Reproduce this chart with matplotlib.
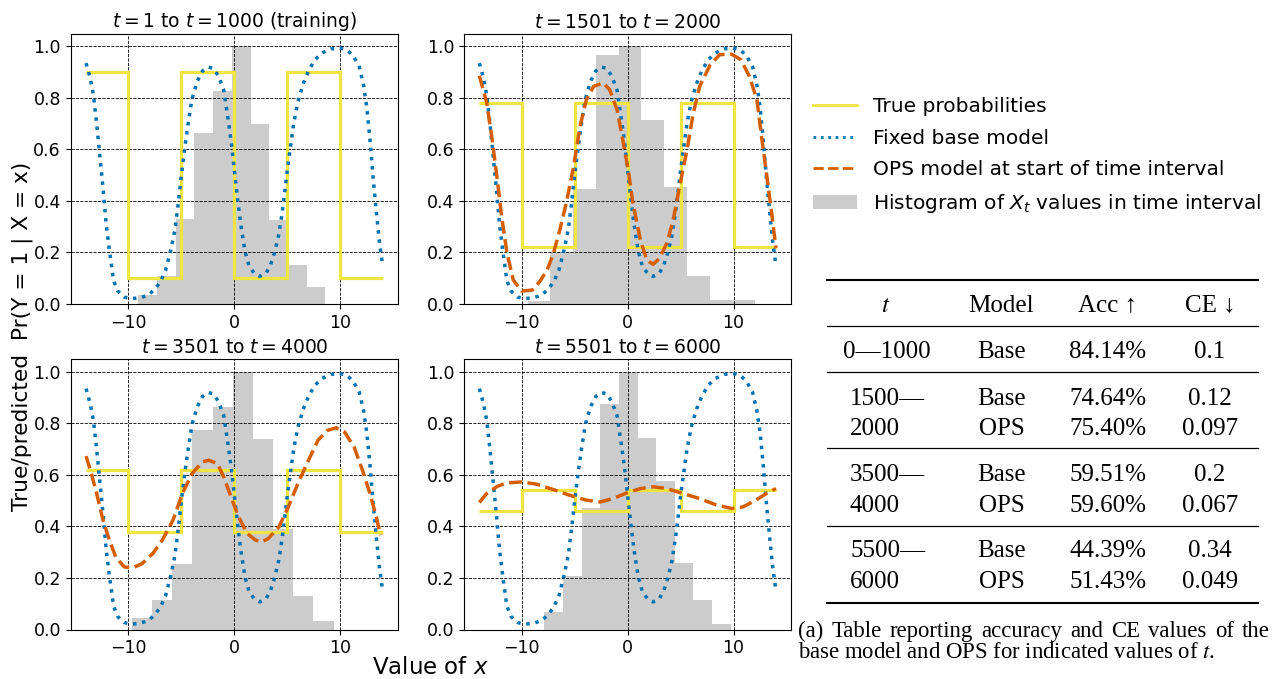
import numpy as np
import matplotlib
matplotlib.use("Agg")
import matplotlib.pyplot as plt
from matplotlib.lines import Line2D
from matplotlib.patches import Patch

W, H = 1273, 679

# ---------------- data ----------------
panel_titles = [
    r"$t = 1$ to $t = 1000$ (training)",
    r"$t = 1501$ to $t = 2000$",
    r"$t = 3501$ to $t = 4000$",
    r"$t = 5501$ to $t = 6000$",
]

# true Pr(Y=1 | X=x): piecewise constant on these breakpoints
true_edges = [-14, -10, -5, 0, 5, 10, 14]
true_p1 = [0.90, 0.10, 0.90, 0.10, 0.90, 0.10]
true_p2 = [0.78, 0.22, 0.78, 0.22, 0.78, 0.22]
true_p3 = [0.62, 0.38, 0.62, 0.38, 0.62, 0.38]
true_p4 = [0.46, 0.54, 0.46, 0.54, 0.46, 0.54]

# fixed base model prediction
base_x = [-14.0, -13.6, -13.3, -13.0, -12.7, -12.4, -12.1, -11.8, -11.4, -11.0,
          -10.4, -9.7, -8.9, -8.1, -7.5, -7.0, -6.5, -6.0, -5.6, -5.3, -5.0,
          -4.7, -4.4, -4.0, -3.5, -3.0, -2.5, -2.0, -1.5, -1.0, -0.6, -0.3,
          0.0, 0.3, 0.6, 1.0, 1.4, 1.9, 2.4, 3.0, 3.4, 3.8, 4.2, 4.5, 4.8,
          5.0, 5.3, 5.6, 6.0, 6.5, 7.0, 7.6, 8.3, 9.1, 9.9, 10.6, 11.2, 11.8,
          12.2, 12.5, 12.8, 13.1, 13.4, 13.7, 14.0]
base_y = [0.935, 0.875, 0.81, 0.70, 0.575, 0.45, 0.31, 0.21, 0.09, 0.05,
          0.027, 0.021, 0.024, 0.035, 0.058, 0.085, 0.13, 0.21, 0.29, 0.39, 0.50,
          0.60, 0.69, 0.795, 0.865, 0.905, 0.92, 0.915, 0.885, 0.83, 0.72, 0.63,
          0.52, 0.41, 0.31, 0.205, 0.146, 0.118, 0.107, 0.12, 0.15, 0.20, 0.27,
          0.35, 0.45, 0.52, 0.61, 0.70, 0.785, 0.855, 0.905, 0.948, 0.975, 0.99,
          0.994, 0.987, 0.965, 0.92, 0.85, 0.765, 0.64, 0.49, 0.36, 0.24, 0.15]

# OPS model at the start of each later interval
ops_x2 = [-14.0, -13.3, -12.8, -12.3, -11.9, -11.4, -10.8, -10.0, -9.0, -8.3,
          -7.6, -7.0, -6.4, -5.8, -5.1, -4.5, -3.9, -3.2, -2.3, -1.7, -1.0,
          -0.4, 0.1, 0.5, 1.2, 1.8, 2.4, 3.0, 3.7, 4.3, 4.9, 5.6, 6.2, 6.8,
          7.8, 8.7, 9.8, 10.7, 11.5, 12.2, 12.6, 13.1, 13.6, 14.0]
ops_y2 = [0.886, 0.78, 0.64, 0.48, 0.34, 0.20, 0.093, 0.05, 0.054, 0.087,
          0.132, 0.197, 0.288, 0.391, 0.534, 0.689, 0.793, 0.845, 0.858, 0.832,
          0.754, 0.624, 0.508, 0.391, 0.249, 0.171, 0.154, 0.177, 0.236, 0.326,
          0.456, 0.598, 0.741, 0.845, 0.929, 0.968, 0.970, 0.948, 0.883, 0.793,
          0.663, 0.508, 0.352, 0.216]

ops_x3 = [-14.0, -13.5, -13.0, -12.4, -11.8, -11.2, -10.4, -9.6, -8.7, -7.7,
          -6.8, -5.8, -4.9, -4.0, -3.0, -2.4, -1.6, -1.0, -0.2, 0.4, 1.2, 2.0,
          2.6, 3.2, 4.2, 5.1, 6.0, 7.0, 7.9, 8.8, 9.6, 10.4, 11.3, 12.1, 12.8,
          13.4, 13.8]
ops_y3 = [0.673, 0.605, 0.528, 0.424, 0.347, 0.282, 0.243, 0.239, 0.256, 0.295,
          0.347, 0.424, 0.528, 0.605, 0.651, 0.657, 0.644, 0.592, 0.502, 0.437,
          0.373, 0.347, 0.340, 0.353, 0.398, 0.476, 0.567, 0.657, 0.735, 0.773,
          0.783, 0.767, 0.709, 0.618, 0.528, 0.437, 0.366]

ops_x4 = [-14.0, -13.3, -12.3, -11.4, -10.0, -8.6, -7.0, -5.4, -3.9, -2.6,
          -1.4, -0.1, 1.2, 2.4, 3.7, 5.2, 6.8, 8.4, 9.8, 10.9, 12.1, 13.1, 14.0]
ops_y4 = [0.493, 0.528, 0.556, 0.569, 0.573, 0.564, 0.543, 0.520, 0.502, 0.495,
          0.508, 0.530, 0.547, 0.554, 0.547, 0.528, 0.508, 0.483, 0.470, 0.476,
          0.502, 0.528, 0.547]

# normalised histograms of X_t within each interval
hist_edges1 = [-9.06, -7.30, -5.53, -3.77, -2.00, -0.24, 1.53, 3.29, 5.05, 6.82, 8.58]
hist_h1 = [0.035, 0.11, 0.33, 0.665, 0.825, 1.0, 0.70, 0.325, 0.152, 0.067]
hist_edges2 = [-9.45, -7.30, -5.15, -3.00, -0.85, 1.30, 3.45, 5.60, 7.75, 9.90, 12.05]
hist_h2 = [0.01, 0.20, 0.447, 0.968, 1.0, 0.715, 0.455, 0.11, 0.016, 0.016]
hist_edges3 = [-9.69, -7.78, -5.88, -3.97, -2.06, -0.16, 1.75, 3.66, 5.56, 7.47, 9.38]
hist_h3 = [0.045, 0.115, 0.255, 0.775, 0.862, 1.0, 0.739, 0.39, 0.131, 0.032]
hist_edges4 = [-7.87, -6.11, -4.35, -2.59, -0.83, 0.93, 2.69, 4.45, 6.21, 7.97, 9.72]
hist_h4 = [0.067, 0.207, 0.47, 0.876, 1.0, 0.745, 0.576, 0.26, 0.114, 0.023]

# results table
tab_header = ["$t$", "Model", "Acc \u2191", "CE \u2193"]
tab_t = ["0\u20141000", "1500\u2014", "2000", "3500\u2014", "4000", "5500\u2014", "6000"]
tab_model = ["Base", "Base", "OPS", "Base", "OPS", "Base", "OPS"]
tab_acc = ["84.14%", "74.64%", "75.40%", "59.51%", "59.60%", "44.39%", "51.43%"]
tab_ce = ["0.1", "0.12", "0.097", "0.2", "0.067", "0.34", "0.049"]

caption_line1 = "(a) Table reporting accuracy and CE values of the"
caption_line2 = "base model and OPS for indicated values of $t$."

# ---------------- style ----------------
C_TRUE = "#f0e442"
C_BASE = "#0072b2"
C_OPS = "#d55e00"
SERIF = ["Liberation Serif", "DejaVu Serif"]

fig = plt.figure(figsize=(W / 100, H / 100), dpi=100)


def fx(px):
    return px / W


def fy(py):
    return 1 - py / H


ax_w, ax_h = 327.3 / W, 270.5 / H
positions = [
    (70.7, 304.0), (464.0, 304.0),
    (70.7, 629.5), (464.0, 629.5),
]

panels = [
    (true_p1, None, None, hist_edges1, hist_h1),
    (true_p2, ops_x2, ops_y2, hist_edges2, hist_h2),
    (true_p3, ops_x3, ops_y3, hist_edges3, hist_h3),
    (true_p4, ops_x4, ops_y4, hist_edges4, hist_h4),
]

for (left, bottom), title, (tp, ox, oy, he, hh) in zip(positions, panel_titles, panels):
    ax = fig.add_axes([fx(left), fy(bottom), ax_w, ax_h])
    he = np.asarray(he)
    ax.bar(he[:-1], hh, width=np.diff(he), align="edge",
           color="grey", alpha=0.4, linewidth=0, zorder=1)
    ax.stairs(tp, true_edges, baseline=None, color=C_TRUE, lw=2.3, zorder=3)
    ax.plot(base_x, base_y, color=C_BASE, ls=":", lw=2.5, zorder=4)
    if ox is not None:
        ax.plot(ox, oy, color=C_OPS, ls="--", lw=2.5, zorder=5)
    ax.set_xlim(-15.45, 15.45)
    ax.set_ylim(0, 1.05)
    ax.set_xticks([-10, 0, 10])
    ax.set_yticks([0.0, 0.2, 0.4, 0.6, 0.8, 1.0])
    ax.grid(True, color="k", ls="--", lw=0.6)
    ax.tick_params(labelsize=12.5)
    ax.set_title(title, fontsize=13.5, pad=4)

fig.text(fx(22), fy(336), "True/predicted  Pr(Y = 1 | X = x)",
         rotation=90, ha="center", va="center", fontsize=15.7)
fig.text(fx(430), fy(674), r"Value of $x$", ha="center", va="baseline", fontsize=16.5)

# legend
handles = [
    Line2D([], [], color=C_TRUE, lw=2),
    Line2D([], [], color=C_BASE, ls=":", lw=2),
    Line2D([], [], color=C_OPS, ls="--", lw=2),
    Patch(facecolor="grey", alpha=0.4, linewidth=0),
]
labels = [
    "True probabilities",
    "Fixed base model",
    "OPS model at start of time interval",
    r"Histogram of $X_t$ values in time interval",
]
fig.legend(handles, labels, loc="upper left", bbox_to_anchor=(fx(813), fy(97.5)),
           frameon=False, fontsize=14.5, borderpad=0, borderaxespad=0,
           handlelength=2.19, handletextpad=0.8, labelspacing=0.62)

# table
x0, x1 = 827, 1258
for y, lw in [(280, 1.5), (326, 0.9), (372, 0.9), (448, 0.9), (526, 0.9), (603, 1.5)]:
    fig.add_artist(Line2D([fx(x0), fx(x1)], [fy(y), fy(y)], color="k", lw=lw))

col_x = [886, 1001.5, 1108, 1210]
TS = 18
for cx, s in zip(col_x, tab_header):
    fig.text(fx(cx), fy(311.7), s, ha="center", va="baseline", fontsize=TS,
             family=SERIF, math_fontfamily="stix")

row_base = [357.7, 404.8, 435.0, 480.7, 512.3, 556.7, 588.3]
for i, yb in enumerate(row_base):
    if i == 0:
        fig.text(fx(886.5), fy(yb), tab_t[i], ha="center", va="baseline",
                 fontsize=TS, family=SERIF)
    else:
        fig.text(fx(850), fy(yb), tab_t[i], ha="left", va="baseline",
                 fontsize=TS, family=SERIF)
    fig.text(fx(col_x[1]), fy(yb), tab_model[i], ha="center", va="baseline",
             fontsize=TS, family=SERIF)
    fig.text(fx(col_x[2]), fy(yb), tab_acc[i], ha="center", va="baseline",
             fontsize=TS, family=SERIF)
    fig.text(fx(col_x[3]), fy(yb), tab_ce[i], ha="center", va="baseline",
             fontsize=TS, family=SERIF)

# caption: first line justified to the column width, second line ragged
CS = 16.4
renderer = fig.canvas.get_renderer()
words = caption_line1.split(" ")
word_artists = [fig.text(0, fy(636.7), w, ha="left", va="baseline",
                         fontsize=CS, family=SERIF) for w in words]
widths = [a.get_window_extent(renderer).width for a in word_artists]
line_left, line_right = 798.0, 1270.0
gap = (line_right - line_left - sum(widths)) / (len(words) - 1)
xpos = line_left
for a, w in zip(word_artists, widths):
    a.set_x(fx(xpos))
    xpos += w + gap

fig.text(fx(798), fy(657.5), caption_line2, ha="left", va="baseline",
         fontsize=CS, family=SERIF, math_fontfamily="stix")

fig.savefig("out.png", dpi=100)
